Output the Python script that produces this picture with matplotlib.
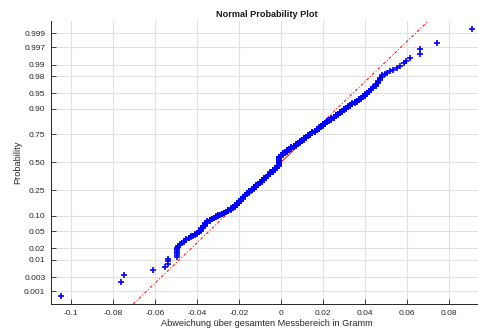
"""
normal probability plot of the weighing deviations (MATLAB normplot look-alike)
"""
import numpy as np
import matplotlib
matplotlib.use('Agg')
import matplotlib.pyplot as plt
from statistics import NormalDist

# ­­­ data (gram) ­­­
# single points in the lower tail, sorted
low_tail = [-0.1048, -0.0762, -0.0748, -0.0608, -0.0553, -0.0537, -0.0537, -0.0537,
            -0.0497, -0.0497, -0.0497, -0.0497, -0.0497, -0.0497, -0.0497]
# dense middle part: readings in mg and how many samples sit on each
mid_mg = list(range(-49, 49))
mid_counts = [2, 2, 1, 2, 2, 2, 2, 1, 2, 2, 3,
              5, 5, 6, 5, 4,
              3, 3, 3, 3, 3, 3, 3, 3,
              6, 6, 6, 7, 7,
              10, 10, 10, 10, 10, 11,
              10, 10, 10, 10, 11, 11, 11, 11,
              13, 14, 15, 15, 15,
              62,
              12,
              10, 10, 10, 10, 10, 9, 9, 10, 9, 9,
              9, 9, 8, 8, 8, 8, 8, 8, 8,
              7, 7, 6, 6, 6, 6, 6, 5, 5, 5, 5,
              4, 4, 4, 4, 3, 3, 4, 3,
              3, 3, 3, 3, 3, 3, 4,
              3, 3, 2]
# single points in the upper tail, sorted
high_tail = [0.0495, 0.0505, 0.052, 0.0535, 0.055, 0.0565, 0.0585, 0.0596,
             0.0612, 0.066, 0.066, 0.0742, 0.091]

prob_ticks = [0.001, 0.003, 0.01, 0.02, 0.05, 0.10, 0.25, 0.50,
              0.75, 0.90, 0.95, 0.98, 0.99, 0.997, 0.999]
prob_labels = ['0.001', '0.003', '0.01', '0.02', '0.05', '0.10', '0.25', '0.50',
               '0.75', '0.90', '0.95', '0.98', '0.99', '0.997', '0.999']
x_ticks = [-0.1, -0.08, -0.06, -0.04, -0.02, 0, 0.02, 0.04, 0.06, 0.08]
x_labels = ['-0.1', '-0.08', '-0.06', '-0.04', '-0.02', '0', '0.02', '0.04', '0.06', '0.08']

# ­­­ build sample + plotting positions ­­­
x = np.sort(np.concatenate([low_tail,
                            np.repeat(np.array(mid_mg) / 1000.0, mid_counts),
                            high_tail]))
n = len(x)
nd = NormalDist()
z = np.array([nd.inv_cdf((i - 0.5) / n) for i in range(1, n + 1)])
z_lo, z_hi = nd.inv_cdf(0.25 / n), nd.inv_cdf(1 - 0.25 / n)

# reference line through 1st and 3rd quartile
q1, q3 = np.percentile(x, [25, 75], method='hazen')
zq = nd.inv_cdf(0.75)
sig = (q3 - q1) / (2 * zq)
mu = (q1 + q3) / 2

plt.rcParams['font.family'] = ['Liberation Sans', 'DejaVu Sans']
fig = plt.figure(figsize=(4.78, 3.29), dpi=100)
ax = fig.add_axes([51 / 478, 25 / 329, 431 / 478, 283.5 / 329])

ax.grid(True, color='#e0e0e0', lw=0.8)
ax.set_axisbelow(True)

# red line: dash-dot outside the quartiles, solid between
ax.plot([mu + sig * z_lo, mu - sig * zq], [z_lo, -zq], color='red', lw=0.7,
        ls=(0, (3, 2, 1, 2)))
ax.plot([mu + sig * zq, mu + sig * z_hi], [zq, z_hi], color='red', lw=0.7,
        ls=(0, (3, 2, 1, 2)))
ax.plot([mu - sig * zq, mu + sig * zq], [-zq, zq], color='red', lw=0.7)

ax.plot(x, z, '+', color='blue', ms=5, mew=1.2)

ax.set_xlim(-0.1095, 0.0957)
ax.set_ylim(z_lo, z_hi)
ax.set_xticks(x_ticks, x_labels)
ax.set_yticks([nd.inv_cdf(p) for p in prob_ticks], prob_labels)
ax.tick_params(direction='in', length=3.5, width=0.6, labelsize=6, colors='#262626',
               pad=4)
for s in ['top', 'right']:
    ax.spines[s].set_visible(False)
for s in ['left', 'bottom']:
    ax.spines[s].set_color('#262626')
    ax.spines[s].set_linewidth(0.7)

ax.set_title('Normal Probability Plot', fontsize=6.6, fontweight='bold', pad=2.5,
             color='#1a1a1a')
ax.set_xlabel('Abweichung über gesamten Messbereich in Gramm', fontsize=6.6,
              color='#262626', labelpad=2)
ax.set_ylabel('Probability', fontsize=6.6, color='#262626', labelpad=1.5)

fig.savefig('out.png', dpi=100)
